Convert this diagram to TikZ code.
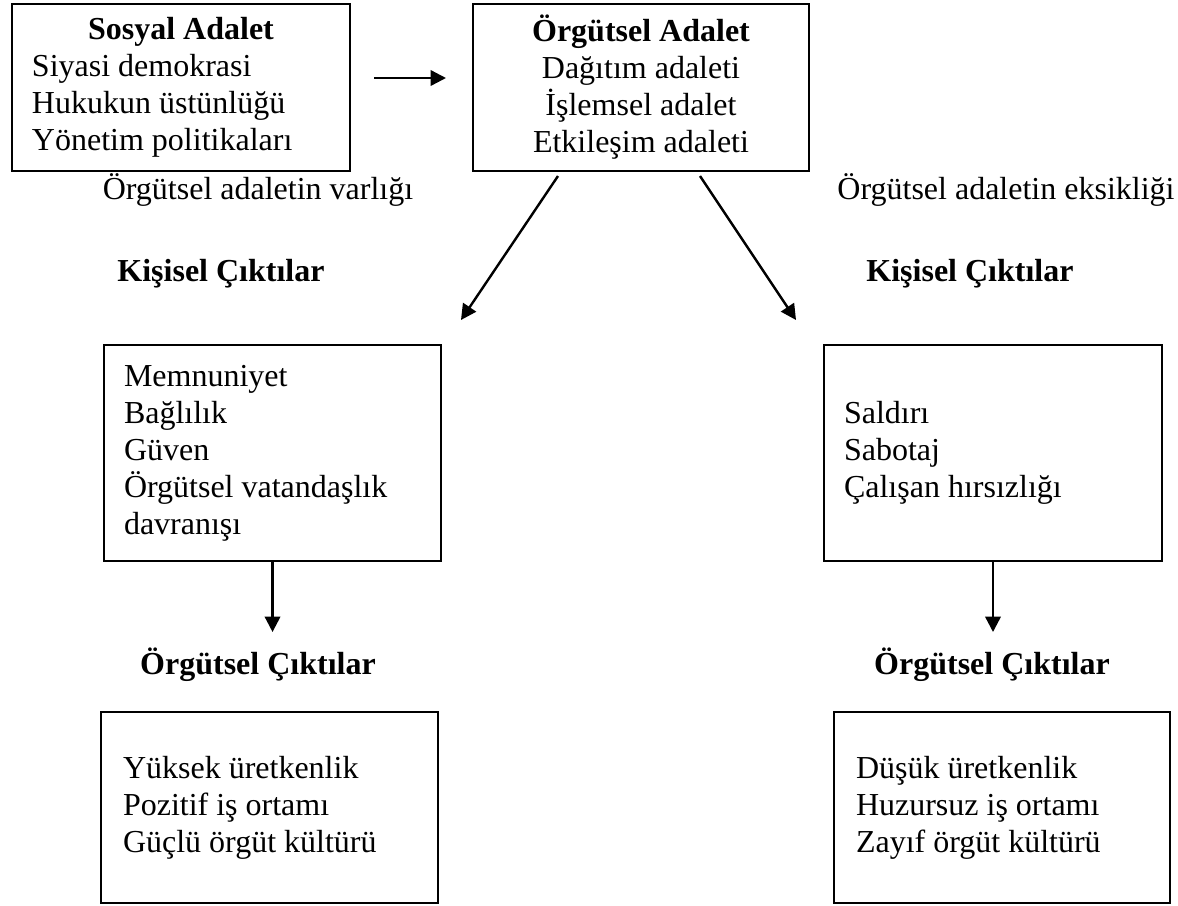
\documentclass[tikz,border=0pt]{standalone}
\usepackage{fontspec}
\setmainfont{Liberation Serif}
\usetikzlibrary{arrows.meta}
\begin{document}
\begin{tikzpicture}[x=0.375pt,y=-0.375pt,
	every node/.style={font=\fontsize{12}{13.9}\selectfont},
	kutu/.style={draw,line width=0.75pt,anchor=north west,inner ysep=0pt,align=flush left},
	ok/.style={line width=0.9pt,-{Triangle[length=5.8pt,width=5.8pt]}},
	baslik/.style={font=\fontsize{12}{13.9}\selectfont\bfseries,inner sep=0pt}]
	\useasboundingbox (0,0) rectangle (1178,905);
	\node[kutu,minimum width=126.75pt,minimum height=62.6pt,inner xsep=7.5pt,text width=111.75pt] (sosyal) at (11,3)
		{{\centering\textbf{Sosyal Adalet}\par}Siyasi demokrasi\\Hukukun üstünlüğü\\Yönetim politikaları};
	\node[kutu,align=center,minimum width=126pt,minimum height=62.6pt] (orgutsel) at (472,3)
		{\textbf{Örgütsel Adalet}\\Dağıtım adaleti\\İşlemsel adalet\\Etkileşim adaleti};
	\coordinate (yatayA) at (374,78);
	\coordinate (yatayB) at (446,78);
	\draw[ok] (yatayA) -- (yatayB);
	\node[inner sep=0pt] (varlik) at (258,190) {Örgütsel adaletin varlığı};
	\node[inner sep=0pt] (eksik) at (1006,190) {Örgütsel adaletin eksikliği};
	\coordinate (solUst) at (558,176);
	\coordinate (solAlt) at (461,320);
	\coordinate (sagUst) at (700,176);
	\coordinate (sagAlt) at (796,320);
	\draw[ok] (solUst) -- (solAlt);
	\draw[ok] (sagUst) -- (sagAlt);
	\node[baslik] (kisiBasL) at (221,274) {Kişisel Çıktılar};
	\node[baslik] (kisiBasR) at (970,274) {Kişisel Çıktılar};
	\node[kutu,minimum width=126.4pt,minimum height=81pt,inner xsep=7.5pt,text width=111.4pt] (kisiL) at (103,344)
		{Memnuniyet\\Bağlılık\\Güven\\Örgütsel vatandaşlık\\davranışı};
	\node[kutu,minimum width=126.75pt,minimum height=81pt,inner xsep=7.5pt,text width=111.75pt] (kisiR) at (823,344)
		{Saldırı\\Sabotaj\\Çalışan hırsızlığı};
	\coordinate (asagiL) at (272,632);
	\coordinate (asagiR) at (992,632);
	\draw[ok] (kisiL.south) -- (kisiL.south |- asagiL);
	\draw[ok] (kisiR.south) -- (kisiR.south |- asagiR);
	\node[baslik] (orgBasL) at (258,665) {Örgütsel Çıktılar};
	\node[baslik] (orgBasR) at (992,665) {Örgütsel Çıktılar};
	\node[kutu,minimum width=126.4pt,minimum height=71.6pt,inner xsep=8.25pt,text width=109.9pt] (ciktiL) at (100,711)
		{Yüksek üretkenlik\\Pozitif iş ortamı\\Güçlü örgüt kültürü};
	\node[kutu,minimum width=126pt,minimum height=71.6pt,inner xsep=8.25pt,text width=109.5pt] (ciktiR) at (833,711)
		{Düşük üretkenlik\\Huzursuz iş ortamı\\Zayıf örgüt kültürü};
\end{tikzpicture}
\end{document}
